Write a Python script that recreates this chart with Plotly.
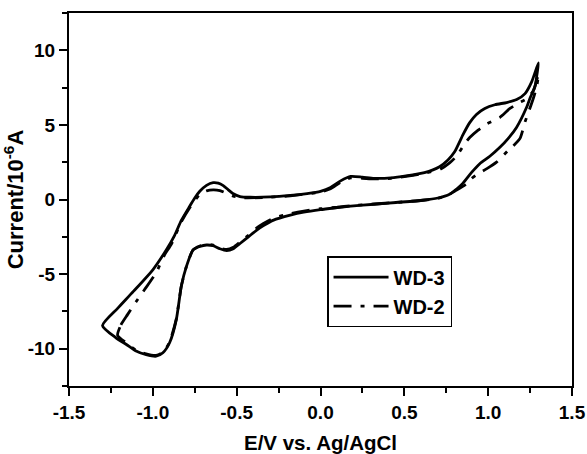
import plotly.graph_objects as go

# WD-3 (solid): anodic branch then cathodic branch (E in V, I in 1e-6 A)
wd3_e = [-1.30, -1.21, -1.116, -1.0, -0.92, -0.87, -0.83, -0.78, -0.75, -0.72, -0.68, -0.64, -0.61,
         -0.58, -0.55, -0.52, -0.48, -0.42, -0.30, -0.18, -0.08, 0.0, 0.06, 0.12, 0.18, 0.25, 0.32,
         0.42, 0.51, 0.62, 0.71, 0.76, 0.80, 0.85, 0.89, 0.93, 0.98, 1.04, 1.11, 1.17, 1.22, 1.26, 1.30,
         1.29, 1.28, 1.25, 1.23, 1.17, 1.12, 1.07, 1.01, 0.95, 0.90, 0.85, 0.80, 0.77, 0.70, 0.61, 0.45,
         0.32, 0.18, 0.10, 0.0, -0.10, -0.18, -0.28, -0.34, -0.38, -0.43, -0.48, -0.52, -0.56, -0.60,
         -0.64, -0.68, -0.72, -0.76, -0.80, -0.83, -0.86, -0.90, -0.94, -0.98, -1.04, -1.10, -1.16,
         -1.22, -1.30]
wd3_i = [-8.45, -7.3, -6.16, -4.71, -3.38, -2.4, -1.4, -0.45, 0.1, 0.55, 0.95, 1.13, 1.1,
         0.93, 0.65, 0.38, 0.2, 0.15, 0.17, 0.27, 0.4, 0.55, 0.8, 1.25, 1.55, 1.5, 1.42,
         1.45, 1.58, 1.8, 2.2, 2.65, 3.2, 4.35, 5.15, 5.7, 6.1, 6.35, 6.5, 6.7, 7.1, 7.9, 9.15,
         8.3, 7.6, 6.8, 6.2, 4.85, 4.1, 3.5, 2.9, 2.4, 1.8, 1.1, 0.6, 0.35, 0.1, -0.05, -0.2,
         -0.32, -0.45, -0.55, -0.68, -0.85, -1.05, -1.38, -1.75, -2.05, -2.5, -2.95, -3.3, -3.42, -3.3,
         -3.1, -3.05, -3.15, -3.38, -4.5, -5.8, -8.05, -9.6, -10.27, -10.5, -10.4, -10.16, -9.7,
         -9.27, -8.45]

# WD-2 (dash-dot)
wd2_e = [-1.21, -1.19, -1.15, -1.10, -1.05, -0.98, -0.93, -0.89, -0.83, -0.78, -0.72, -0.68, -0.64,
         -0.60, -0.56, -0.52, -0.46, -0.30, -0.18, 0.0, 0.06, 0.12, 0.18, 0.25, 0.32, 0.42, 0.51,
         0.62, 0.72, 0.77, 0.81, 0.86, 0.89, 0.94, 0.99, 1.07, 1.13, 1.18, 1.23, 1.27, 1.30,
         1.29, 1.27, 1.25, 1.22, 1.19, 1.15, 1.12, 1.05, 0.99, 0.94, 0.90, 0.87, 0.80, 0.77, 0.70,
         0.61, 0.45, 0.32, 0.18, 0.10, 0.0, -0.10, -0.18, -0.28, -0.34, -0.38, -0.43, -0.48, -0.52,
         -0.56, -0.60, -0.64, -0.68, -0.72, -0.76, -0.80, -0.83, -0.86, -0.90, -0.94, -0.98, -1.04,
         -1.10, -1.16, -1.21]
wd2_i = [-9.1, -8.4, -7.7, -6.85, -6.05, -4.9, -3.7, -3.0, -1.5, -0.55, 0.35, 0.58, 0.65,
         0.6, 0.42, 0.22, 0.12, 0.15, 0.25, 0.5, 0.72, 1.15, 1.45, 1.42, 1.38, 1.42, 1.55,
         1.75, 2.07, 2.45, 2.89, 3.73, 4.15, 4.65, 5.05, 5.5, 6.1, 6.45, 6.75, 7.3, 8.4,
         7.6, 6.8, 6.15, 5.2, 4.1, 3.6, 3.3, 2.5, 2.05, 1.73, 1.4, 1.05, 0.55, 0.35, 0.08,
         -0.05, -0.2, -0.3, -0.42, -0.52, -0.62, -0.78, -0.95, -1.25, -1.6, -1.9, -2.4, -2.85, -3.2,
         -3.35, -3.25, -3.05, -3.0, -3.12, -3.38, -4.5, -5.8, -8.0, -9.55, -10.25, -10.45, -10.35,
         -10.1, -9.6, -9.1]

x_ticks = [-1.5, -1.0, -0.5, 0.0, 0.5, 1.0, 1.5]
x_tick_labels = ["-1.5", "-1.0", "-0.5", "0.0", "0.5", "1.0", "1.5"]
y_ticks = [-10, -5, 0, 5, 10]
y_tick_labels = ["-10", "-5", "0", "5", "10"]

FONT = "Liberation Sans, Arial, sans-serif"

fig = go.Figure()
fig.add_trace(go.Scatter(x=wd3_e, y=wd3_i, mode="lines", name="<b>WD-3</b>",
                         line=dict(color="black", width=2.8, shape="spline", smoothing=0.6)))
fig.add_trace(go.Scatter(x=wd2_e, y=wd2_i, mode="lines", name="<b>WD-2</b>",
                         line=dict(color="black", width=2.8, dash="18px,9px,4px,9px",
                                   shape="spline", smoothing=0.6)))

axis_common = dict(showline=True, linecolor="black", linewidth=2, mirror=True,
                   ticks="outside", ticklen=8, tickwidth=2, tickcolor="black",
                   showgrid=False, zeroline=False, automargin=False,
                   tickfont=dict(family=FONT, size=19, color="black", weight="bold"))

fig.update_xaxes(range=[-1.5, 1.5], tickmode="array", tickvals=x_ticks,
                 ticktext=["<b>" + t + "</b>" for t in x_tick_labels],
                 minor=dict(dtick=0.25, ticks="outside", ticklen=5, tickwidth=2, tickcolor="black"),
                 title=dict(text="<b>E/V vs. Ag/AgCl</b>",
                            font=dict(family=FONT, size=20.5, color="black", weight="bold"),
                            standoff=14),
                 **axis_common)
fig.update_yaxes(range=[-12.5, 12.5], tickmode="array", tickvals=y_ticks,
                 ticktext=["<b>" + t + "</b>" for t in y_tick_labels],
                 minor=dict(dtick=2.5, ticks="outside", ticklen=5, tickwidth=2, tickcolor="black"),
                 title=dict(text="<b>Current/10<sup>-6</sup>A</b>",
                            font=dict(family=FONT, size=22, color="black", weight="bold"),
                            standoff=5),
                 **axis_common)

fig.update_layout(
    width=587, height=454,
    margin=dict(l=69, r=15, t=13, b=68),
    plot_bgcolor="white", paper_bgcolor="white",
    showlegend=True,
    legend=dict(x=0.513, y=0.348, xanchor="left", yanchor="top",
                bgcolor="white", bordercolor="black", borderwidth=1.5,
                font=dict(family=FONT, size=20, color="black", weight="bold"),
                tracegroupgap=0, itemwidth=55),
)

fig.write_html("out.html")
